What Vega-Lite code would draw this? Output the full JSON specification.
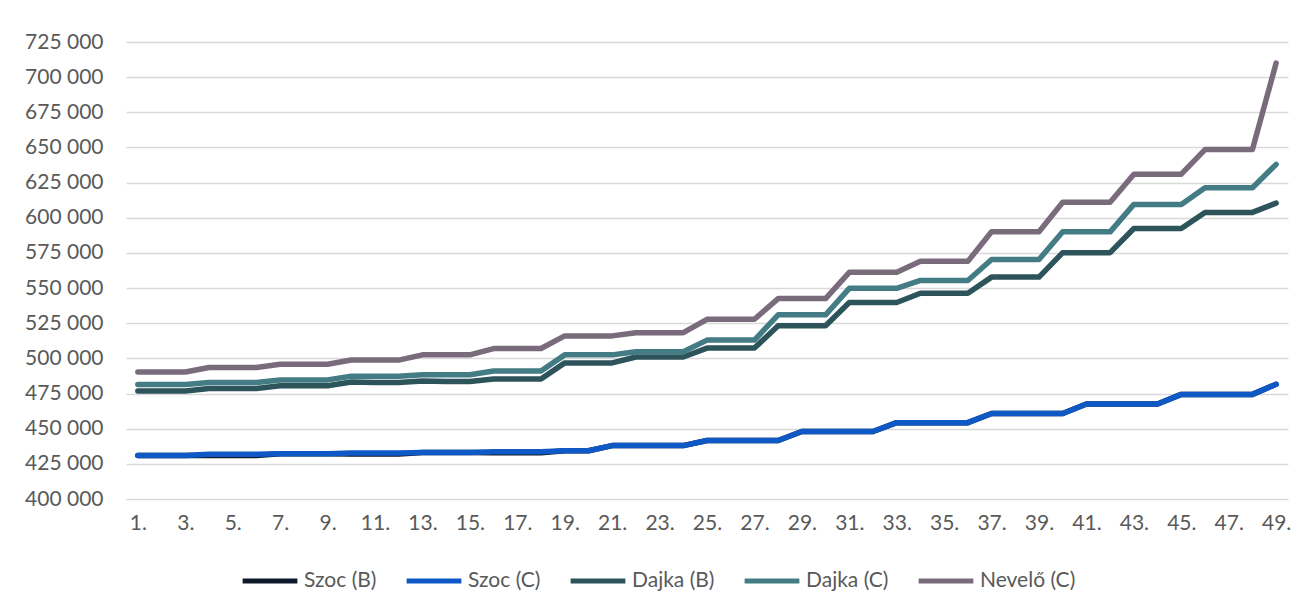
{
  "$schema": "https://vega.github.io/schema/vega-lite/v6.json",
  "width": 1162,
  "height": 457,
  "autosize": {"type": "none"},
  "padding": {"left": 126, "top": 42, "right": 14, "bottom": 116},
  "background": "white",
  "config": {"view": {"stroke": null}, "font": "Lato"},
  "data": {
    "values": [
      {"n": 1, "Szoc (B)": 430900, "Szoc (C)": 430900, "Dajka (B)": 476800, "Dajka (C)": 481400, "Nevelő (C)": 490300},
      {"n": 2, "Szoc (B)": 430900, "Szoc (C)": 430900, "Dajka (B)": 476800, "Dajka (C)": 481400, "Nevelő (C)": 490300},
      {"n": 3, "Szoc (B)": 430900, "Szoc (C)": 430900, "Dajka (B)": 476800, "Dajka (C)": 481400, "Nevelő (C)": 490300},
      {"n": 4, "Szoc (B)": 431000, "Szoc (C)": 431800, "Dajka (B)": 478600, "Dajka (C)": 482800, "Nevelő (C)": 493500},
      {"n": 5, "Szoc (B)": 431000, "Szoc (C)": 431800, "Dajka (B)": 478600, "Dajka (C)": 482800, "Nevelő (C)": 493500},
      {"n": 6, "Szoc (B)": 431000, "Szoc (C)": 431800, "Dajka (B)": 478600, "Dajka (C)": 482800, "Nevelő (C)": 493500},
      {"n": 7, "Szoc (B)": 432200, "Szoc (C)": 432200, "Dajka (B)": 480500, "Dajka (C)": 484700, "Nevelő (C)": 495800},
      {"n": 8, "Szoc (B)": 432200, "Szoc (C)": 432200, "Dajka (B)": 480500, "Dajka (C)": 484700, "Nevelő (C)": 495800},
      {"n": 9, "Szoc (B)": 432200, "Szoc (C)": 432200, "Dajka (B)": 480500, "Dajka (C)": 484700, "Nevelő (C)": 495800},
      {"n": 10, "Szoc (B)": 432000, "Szoc (C)": 432800, "Dajka (B)": 483200, "Dajka (C)": 487300, "Nevelő (C)": 498800},
      {"n": 11, "Szoc (B)": 432000, "Szoc (C)": 432800, "Dajka (B)": 482800, "Dajka (C)": 487300, "Nevelő (C)": 498800},
      {"n": 12, "Szoc (B)": 432000, "Szoc (C)": 432800, "Dajka (B)": 482800, "Dajka (C)": 487300, "Nevelő (C)": 498800},
      {"n": 13, "Szoc (B)": 433100, "Szoc (C)": 433100, "Dajka (B)": 484000, "Dajka (C)": 488300, "Nevelő (C)": 502500},
      {"n": 14, "Szoc (B)": 433100, "Szoc (C)": 433100, "Dajka (B)": 483600, "Dajka (C)": 488300, "Nevelő (C)": 502500},
      {"n": 15, "Szoc (B)": 433100, "Szoc (C)": 433100, "Dajka (B)": 483600, "Dajka (C)": 488300, "Nevelő (C)": 502500},
      {"n": 16, "Szoc (B)": 432900, "Szoc (C)": 433600, "Dajka (B)": 485300, "Dajka (C)": 491000, "Nevelő (C)": 507000},
      {"n": 17, "Szoc (B)": 432900, "Szoc (C)": 433600, "Dajka (B)": 485300, "Dajka (C)": 491000, "Nevelő (C)": 507000},
      {"n": 18, "Szoc (B)": 432900, "Szoc (C)": 433600, "Dajka (B)": 485300, "Dajka (C)": 491000, "Nevelő (C)": 507000},
      {"n": 19, "Szoc (B)": 434300, "Szoc (C)": 434300, "Dajka (B)": 496800, "Dajka (C)": 502500, "Nevelő (C)": 516000},
      {"n": 20, "Szoc (B)": 434300, "Szoc (C)": 434300, "Dajka (B)": 496800, "Dajka (C)": 502500, "Nevelő (C)": 516000},
      {"n": 21, "Szoc (B)": 438000, "Szoc (C)": 438000, "Dajka (B)": 496800, "Dajka (C)": 502500, "Nevelő (C)": 516000},
      {"n": 22, "Szoc (B)": 438000, "Szoc (C)": 438000, "Dajka (B)": 501000, "Dajka (C)": 504700, "Nevelő (C)": 518300},
      {"n": 23, "Szoc (B)": 438000, "Szoc (C)": 438000, "Dajka (B)": 501000, "Dajka (C)": 504700, "Nevelő (C)": 518300},
      {"n": 24, "Szoc (B)": 438000, "Szoc (C)": 438000, "Dajka (B)": 501000, "Dajka (C)": 504700, "Nevelő (C)": 518300},
      {"n": 25, "Szoc (B)": 441600, "Szoc (C)": 441600, "Dajka (B)": 507300, "Dajka (C)": 513000, "Nevelő (C)": 527800},
      {"n": 26, "Szoc (B)": 441600, "Szoc (C)": 441600, "Dajka (B)": 507300, "Dajka (C)": 513000, "Nevelő (C)": 527800},
      {"n": 27, "Szoc (B)": 441600, "Szoc (C)": 441600, "Dajka (B)": 507300, "Dajka (C)": 513000, "Nevelő (C)": 527800},
      {"n": 28, "Szoc (B)": 441600, "Szoc (C)": 441600, "Dajka (B)": 523200, "Dajka (C)": 531000, "Nevelő (C)": 542500},
      {"n": 29, "Szoc (B)": 448000, "Szoc (C)": 448000, "Dajka (B)": 523200, "Dajka (C)": 531000, "Nevelő (C)": 542500},
      {"n": 30, "Szoc (B)": 448000, "Szoc (C)": 448000, "Dajka (B)": 523200, "Dajka (C)": 531000, "Nevelő (C)": 542500},
      {"n": 31, "Szoc (B)": 448000, "Szoc (C)": 448000, "Dajka (B)": 539700, "Dajka (C)": 549800, "Nevelő (C)": 561200},
      {"n": 32, "Szoc (B)": 448000, "Szoc (C)": 448000, "Dajka (B)": 539700, "Dajka (C)": 549800, "Nevelő (C)": 561200},
      {"n": 33, "Szoc (B)": 454300, "Szoc (C)": 454300, "Dajka (B)": 539700, "Dajka (C)": 549800, "Nevelő (C)": 561200},
      {"n": 34, "Szoc (B)": 454300, "Szoc (C)": 454300, "Dajka (B)": 546300, "Dajka (C)": 555400, "Nevelő (C)": 569000},
      {"n": 35, "Szoc (B)": 454300, "Szoc (C)": 454300, "Dajka (B)": 546300, "Dajka (C)": 555400, "Nevelő (C)": 569000},
      {"n": 36, "Szoc (B)": 454300, "Szoc (C)": 454300, "Dajka (B)": 546300, "Dajka (C)": 555400, "Nevelő (C)": 569000},
      {"n": 37, "Szoc (B)": 460800, "Szoc (C)": 460800, "Dajka (B)": 557800, "Dajka (C)": 570300, "Nevelő (C)": 590000},
      {"n": 38, "Szoc (B)": 460800, "Szoc (C)": 460800, "Dajka (B)": 557800, "Dajka (C)": 570300, "Nevelő (C)": 590000},
      {"n": 39, "Szoc (B)": 460800, "Szoc (C)": 460800, "Dajka (B)": 557800, "Dajka (C)": 570300, "Nevelő (C)": 590000},
      {"n": 40, "Szoc (B)": 460800, "Szoc (C)": 460800, "Dajka (B)": 575200, "Dajka (C)": 590000, "Nevelő (C)": 611000},
      {"n": 41, "Szoc (B)": 467600, "Szoc (C)": 467600, "Dajka (B)": 575200, "Dajka (C)": 590000, "Nevelő (C)": 611000},
      {"n": 42, "Szoc (B)": 467600, "Szoc (C)": 467600, "Dajka (B)": 575200, "Dajka (C)": 590000, "Nevelő (C)": 611000},
      {"n": 43, "Szoc (B)": 467600, "Szoc (C)": 467600, "Dajka (B)": 592400, "Dajka (C)": 609500, "Nevelő (C)": 631000},
      {"n": 44, "Szoc (B)": 467600, "Szoc (C)": 467600, "Dajka (B)": 592400, "Dajka (C)": 609500, "Nevelő (C)": 631000},
      {"n": 45, "Szoc (B)": 474400, "Szoc (C)": 474400, "Dajka (B)": 592400, "Dajka (C)": 609500, "Nevelő (C)": 631000},
      {"n": 46, "Szoc (B)": 474400, "Szoc (C)": 474400, "Dajka (B)": 603800, "Dajka (C)": 621300, "Nevelő (C)": 648500},
      {"n": 47, "Szoc (B)": 474400, "Szoc (C)": 474400, "Dajka (B)": 603800, "Dajka (C)": 621300, "Nevelő (C)": 648500},
      {"n": 48, "Szoc (B)": 474400, "Szoc (C)": 474400, "Dajka (B)": 603800, "Dajka (C)": 621300, "Nevelő (C)": 648500},
      {"n": 49, "Szoc (B)": 481600, "Szoc (C)": 481600, "Dajka (B)": 610400, "Dajka (C)": 638000, "Nevelő (C)": 710000}
    ]
  },
  "transform": [
    {"fold": ["Szoc (B)", "Szoc (C)", "Dajka (B)", "Dajka (C)", "Nevelő (C)"], "as": ["s", "v"]}
  ],
  "mark": {"type": "line", "strokeWidth": 5.5, "strokeCap": "round", "strokeJoin": "round"},
  "encoding": {
    "x": {
      "field": "n",
      "type": "ordinal",
      "scale": {"type": "point", "padding": 0.5},
      "axis": {
        "title": null,
        "labelExpr": "datum.value % 2 == 1 ? datum.value + '.' : ''",
        "labelAngle": 0,
        "ticks": false,
        "domain": false,
        "grid": false,
        "labelOverlap": false,
        "labelFontSize": 21,
        "labelColor": "#595959",
        "labelPadding": 13
      }
    },
    "y": {
      "field": "v",
      "type": "quantitative",
      "scale": {"domain": [400000, 725000], "nice": false, "zero": false},
      "axis": {
        "title": null,
        "values": [400000, 425000, 450000, 475000, 500000, 525000, 550000, 575000, 600000, 625000, 650000, 675000, 700000, 725000],
        "labelExpr": "replace(format(datum.value, ','), ',', ' ')",
        "ticks": false,
        "domain": false,
        "gridColor": "#d9d9d9",
        "gridWidth": 1.3,
        "labelFontSize": 21,
        "labelColor": "#595959",
        "labelPadding": 23
      }
    },
    "color": {
      "field": "s",
      "type": "nominal",
      "scale": {
        "domain": ["Szoc (B)", "Szoc (C)", "Dajka (B)", "Dajka (C)", "Nevelő (C)"],
        "range": ["#0D1A2B", "#0F59C6", "#2D545B", "#437C84", "#796B7C"]
      },
      "legend": {
        "title": null,
        "orient": "none",
        "direction": "horizontal",
        "legendX": 114,
        "legendY": 509,
        "symbolType": "stroke",
        "symbolSize": 3000,
        "symbolStrokeWidth": 5,
        "labelFontSize": 21,
        "labelColor": "#595959",
        "labelOffset": 4,
        "columnPadding": 19
      }
    }
  }
}
